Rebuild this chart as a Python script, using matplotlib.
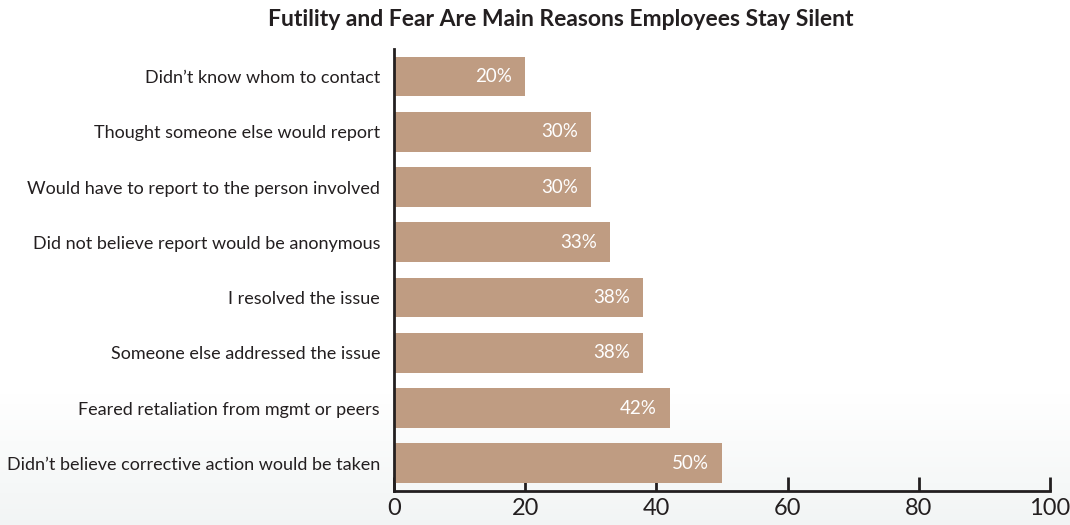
import numpy as np
import matplotlib
matplotlib.use("Agg")
import matplotlib.pyplot as plt

plt.rcParams['font.family'] = ['Lato', 'DejaVu Sans']

title = "Futility and Fear Are Main Reasons Employees Stay Silent"
categories = [
    "Didn\u2019t know whom to contact",
    "Thought someone else would report",
    "Would have to report to the person involved",
    "Did not believe report would be anonymous",
    "I resolved the issue",
    "Someone else addressed the issue",
    "Feared retaliation from mgmt or peers",
    "Didn\u2019t believe corrective action would be taken",
]
values = [20, 30, 30, 33, 38, 38, 42, 50]
xticks = [0, 20, 40, 60, 80, 100]

bar_color = "#bf9c82"
dark = "#231f20"

fig = plt.figure(figsize=(10.7, 5.25), dpi=100)

# subtle background gradient toward the bottom
bg = fig.add_axes([0, 0, 1, 1], zorder=-10)
grad = np.ones((100, 1, 3))
t = np.linspace(0, 1, 100)
w = np.clip((t - 0.75) / 0.25, 0, 1)
base = np.array([1.0, 1.0, 1.0])
low = np.array([0.95, 0.96, 0.96])
for i in range(100):
    grad[i, 0, :] = base * (1 - w[i]) + low * w[i]
bg.imshow(grad, aspect='auto', extent=[0, 1, 1, 0])
bg.set_axis_off()

ax = fig.add_axes([0.3682, 0.0648, 0.6131, 0.8419])
ax.patch.set_alpha(0)
y = np.arange(len(categories))
bars = ax.barh(y, values, height=0.72, color=bar_color, zorder=2)
ax.set_ylim(len(categories) - 0.5, -0.5)
ax.set_xlim(0, 100)
ax.set_yticks(y)
ax.set_yticklabels(categories, fontsize=13, color=dark)
ax.set_xticks(xticks)
ax.set_xticklabels([str(v) for v in xticks], fontsize=17, color=dark)
ax.tick_params(axis='y', length=0, pad=10)
ax.tick_params(axis='x', direction='in', length=10, width=2, color=dark, pad=5)
for s in ['top', 'right']:
    ax.spines[s].set_visible(False)
for s in ['left', 'bottom']:
    ax.spines[s].set_linewidth(2)
    ax.spines[s].set_color(dark)

for yi, v in zip(y, values):
    ax.text(v - 2, yi, f"{v}%", ha='right', va='center', color='white', fontsize=13.5, zorder=3)

fig.text(0.524, 0.962, title, ha='center', va='center', fontsize=16.5, fontweight='bold', color=dark)

fig.savefig("out.png", dpi=100)
